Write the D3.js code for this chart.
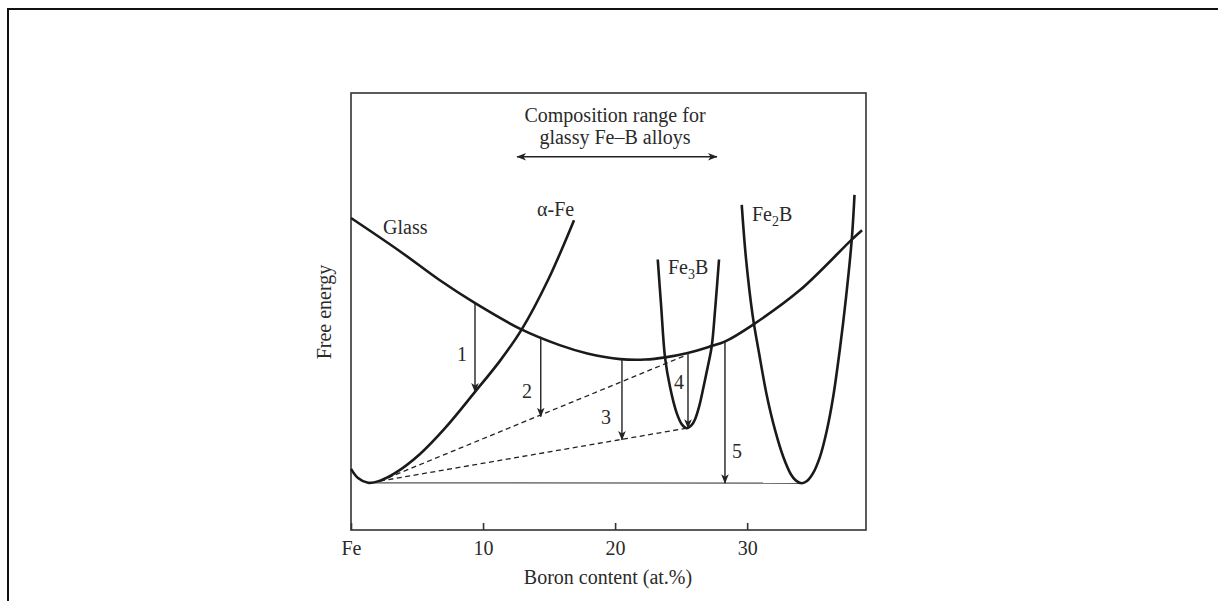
<!DOCTYPE html>
<html><head><meta charset="utf-8">
<script src="https://cdn.jsdelivr.net/npm/d3@7"></script>
<style>
body{margin:0;background:#fff}
svg text{font-family:"Liberation Serif","DejaVu Serif",serif;fill:#2a2a2a}
</style>
</head><body><svg id="c" width="1218" height="601"></svg>
<script>
// ---- data (boron content in at.%, free energy in arbitrary units) ----
const xTicks = [0, 10, 20, 30];
const xTickLabels = ["Fe", "10", "20", "30"];

const glassX = [0, 3.7, 6.7, 9.4, 12.9, 15.8, 17.9, 20.4, 22.3, 23.8, 25.5, 27.3, 28.3, 30.4, 34.0, 37.9, 38.7];
const glassE = [71.4, 63.8, 57.2, 51.9, 45.9, 42.3, 40.4, 39.1, 39.0, 39.5, 40.5, 42.1, 43.1, 46.9, 54.9, 66.4, 68.6];

const alphaX = [0, 0.53, 1.29, 2.2, 3.33, 5.23, 7.12, 9.39, 11.28, 12.93, 14.92, 16.89];
const alphaE = [14.0, 11.9, 10.8, 11.3, 13.0, 17.4, 23.3, 31.6, 38.7, 45.9, 57.2, 70.9];

const fe3bX = [23.23, 23.49, 23.78, 24.16, 24.66, 25.07, 25.42, 25.79, 26.05, 26.35, 26.68, 27.0, 27.32, 27.57, 27.87];
const fe3bE = [61.9, 51.1, 39.5, 32.7, 26.8, 24.1, 23.3, 24.0, 25.3, 28.1, 32.5, 37.1, 42.1, 50.3, 61.9];

const fe2bX = [29.59, 29.91, 30.42, 30.90, 31.48, 32.11, 32.74, 33.32, 33.70, 34.13, 34.53, 34.99, 35.52, 36.02, 36.5, 37.03, 37.49, 37.92, 38.13];
const fe2bE = [74.4, 62.2, 49.0, 40.5, 30.9, 22.9, 16.7, 12.7, 11.3, 10.7, 11.2, 13.0, 16.8, 22.6, 30.2, 41.6, 53.3, 66.4, 76.7];

// transformation arrows: x, start energy (glass), end energy
const arrowLabels = ["1", "2", "3", "4", "5"];
const arrowX = [9.39, 14.37, 20.52, 25.52, 28.32];
const arrowFrom = [51.9, 44.2, 39.2, 40.5, 43.1];
const arrowTo = [31.6, 25.9, 20.6, 23.3, 10.7];

// dashed tangent lines [x0,E0,x1,E1]
const dashUpper = [2.2, 11.2, 25.37, 40.0];
const dashLower = [2.2, 11.2, 25.42, 23.3];
// common baseline alpha-Fe / Fe2B
const baseLine = [1.29, 10.8, 34.13, 10.7];
// glass-forming composition range
const rangeX = [12.57, 27.72];
const rangeE = 85.4;

// ---- drawing ----
const svg = d3.select("#c");
const x = d3.scaleLinear().domain([0, 39]).range([351, 866]);
const y = d3.scaleLinear().domain([0, 100]).range([530, 93]);
const FS = 20;

// outer frame
svg.append("path").attr("d", "M8,601 V9 H1218").attr("fill", "none").attr("stroke", "#111").attr("stroke-width", 2);

const defs = svg.append("defs");
defs.append("marker").attr("id", "ah").attr("viewBox", "-11 -5 12 10")
  .attr("markerWidth", 12).attr("markerHeight", 10).attr("refX", 0).attr("refY", 0)
  .attr("markerUnits", "userSpaceOnUse").attr("orient", "auto-start-reverse")
  .append("path").attr("d", "M0.5,0 L-9,-3.8 L-6.5,0 L-9,3.8 Z").attr("fill", "#222");

// plot box
svg.append("rect").attr("x", x(0)).attr("y", y(100)).attr("width", x(39) - x(0)).attr("height", y(0) - y(100))
  .attr("fill", "none").attr("stroke", "#333").attr("stroke-width", 1.6);

// axis
const ax = svg.append("g").attr("transform", `translate(0,${y(0)})`)
  .call(d3.axisBottom(x).tickValues(xTicks).tickSizeInner(-7).tickSizeOuter(0).tickPadding(11)
    .tickFormat((d, i) => xTickLabels[i]));
ax.select(".domain").remove();
ax.selectAll(".tick line").attr("stroke", "#333").attr("stroke-width", 1.6);
ax.selectAll(".tick text").attr("font-size", FS).attr("fill", "#2a2a2a")
  .style("font-family", '"Liberation Serif","DejaVu Serif",serif');

svg.append("text").attr("x", 608).attr("y", 584).attr("text-anchor", "middle").attr("font-size", FS)
  .text("Boron content (at.%)");
svg.append("text").attr("transform", `translate(331,312) rotate(-90)`).attr("text-anchor", "middle")
  .attr("font-size", FS).text("Free energy");

const line = d3.line().x(d => x(d[0])).y(d => y(d[1])).curve(d3.curveCatmullRom.alpha(0.5));
const zip = (a, b) => a.map((v, i) => [v, b[i]]);

// baseline
svg.append("path").attr("d", d3.line()([[x(baseLine[0]), y(baseLine[1])], [x(baseLine[2]), y(baseLine[3])]]))
  .attr("stroke", "#555").attr("stroke-width", 1.3).attr("fill", "none");

// dashed lines
[dashUpper, dashLower].forEach(dl => {
  svg.append("path").attr("d", d3.line()([[x(dl[0]), y(dl[1])], [x(dl[2]), y(dl[3])]]))
    .attr("stroke", "#222").attr("stroke-width", 1.3).attr("stroke-dasharray", "5,3.5").attr("fill", "none");
});

// curves
[[glassX, glassE], [alphaX, alphaE], [fe3bX, fe3bE], [fe2bX, fe2bE]].forEach(([xs, es]) => {
  svg.append("path").attr("d", line(zip(xs, es))).attr("fill", "none")
    .attr("stroke", "#1a1a1a").attr("stroke-width", 2.6).attr("stroke-linejoin", "round");
});

// arrows
const labOff = [[-13, 58], [-13.7, 61], [-16, 65], [-9, 36], [12, 116]];
arrowX.forEach((ax0, i) => {
  svg.append("line").attr("x1", x(ax0)).attr("x2", x(ax0)).attr("y1", y(arrowFrom[i])).attr("y2", y(arrowTo[i]))
    .attr("stroke", "#222").attr("stroke-width", 1.4).attr("marker-end", "url(#ah)");
  svg.append("text").attr("x", x(ax0) + labOff[i][0]).attr("y", y(arrowFrom[i]) + labOff[i][1])
    .attr("text-anchor", "middle").attr("font-size", FS).text(arrowLabels[i]);
});

// composition range
svg.append("line").attr("x1", x(rangeX[0])).attr("x2", x(rangeX[1])).attr("y1", y(rangeE)).attr("y2", y(rangeE))
  .attr("stroke", "#222").attr("stroke-width", 1.4)
  .attr("marker-start", "url(#ah)").attr("marker-end", "url(#ah)");
svg.append("text").attr("x", 615).attr("y", 122).attr("text-anchor", "middle").attr("font-size", FS)
  .text("Composition range for");
svg.append("text").attr("x", 615).attr("y", 144).attr("text-anchor", "middle").attr("font-size", FS)
  .text("glassy Fe\u2013B alloys");

// curve labels
svg.append("text").attr("x", 383).attr("y", 234).attr("font-size", FS).text("Glass");
svg.append("text").attr("x", 537).attr("y", 216).attr("font-size", FS).text("\u03b1-Fe");
const t3 = svg.append("text").attr("x", 668).attr("y", 274).attr("font-size", FS);
t3.append("tspan").text("Fe");
t3.append("tspan").attr("dy", 5).attr("font-size", 14).text("3");
t3.append("tspan").attr("dy", -5).text("B");
const t2 = svg.append("text").attr("x", 752).attr("y", 221).attr("font-size", FS);
t2.append("tspan").text("Fe");
t2.append("tspan").attr("dy", 5).attr("font-size", 14).text("2");
t2.append("tspan").attr("dy", -5).text("B");
</script>
</body></html>
